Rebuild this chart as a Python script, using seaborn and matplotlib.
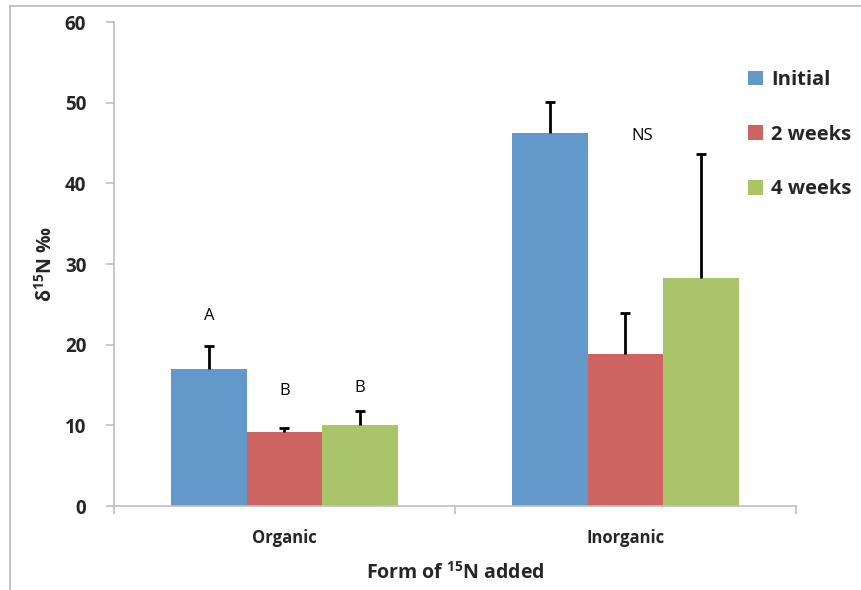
import numpy as np
import pandas as pd
import matplotlib
matplotlib.use("Agg")
import matplotlib.pyplot as plt
import seaborn as sns
from matplotlib.lines import Line2D
from matplotlib.patches import Patch

# ---- data ----
forms = ["Organic", "Inorganic"]
times = ["Initial", "2 weeks", "4 weeks"]
organic_means = [17.0, 9.2, 10.1]
organic_err = [2.8, 0.5, 1.7]
inorganic_means = [46.2, 18.9, 28.3]
inorganic_err = [3.9, 5.0, 15.3]
organic_letters = ["A", "B", "B"]
organic_letter_y = [23.5, 14.2, 14.6]
inorganic_note = "NS"
inorganic_note_y = 45.9
colors = ["#6398CB", "#CD6461", "#AAC46A"]

rows = []
for f, means, errs in [("Organic", organic_means, organic_err),
                       ("Inorganic", inorganic_means, inorganic_err)]:
    for t, m, e in zip(times, means, errs):
        rows.append({"form": f, "time": t, "value": m, "err": e})
df = pd.DataFrame(rows)

sns.set_style("white")
plt.rcParams["font.family"] = ["Open Sans", "DejaVu Sans"]
plt.rcParams["mathtext.fontset"] = "custom"
plt.rcParams["mathtext.rm"] = "Open Sans"
plt.rcParams["mathtext.bf"] = "Open Sans:bold"

fig = plt.figure(figsize=(8.62, 5.90), dpi=100)
ax = fig.add_axes([114 / 862, 1 - 506 / 590, (796 - 114) / 862, (506 - 22) / 590])

sns.barplot(data=df, x="form", y="value", hue="time", order=forms,
            hue_order=times, palette=colors, width=0.663, errorbar=None,
            saturation=1, ax=ax, legend=False, linewidth=0)

bar_containers = list(ax.containers)

# error bars (upper only)
for ci, cont in enumerate(bar_containers):
    t = times[ci]
    sub = df[df["time"] == t].set_index("form").loc[forms]
    xs = [p.get_x() + p.get_width() / 2 for p in cont.patches]
    eb = ax.errorbar(xs, sub["value"].values,
                     yerr=[np.zeros(len(xs)), sub["err"].values],
                     fmt="none", ecolor="black", elinewidth=2, capsize=3.5,
                     capthick=2, zorder=3)
    caps = eb.lines[1]
    for cl in caps:
        if np.allclose(cl.get_ydata(), sub["value"].values):
            cl.set_visible(False)

# annotations
org_x = [bar_containers[i].patches[0].get_x() +
         bar_containers[i].patches[0].get_width() / 2 for i in range(3)]
for x, lab, yv in zip(org_x, organic_letters, organic_letter_y):
    ax.text(x, yv, lab, ha="center", va="center", fontsize=12, color="black")
ax.text(1.05, inorganic_note_y, inorganic_note, ha="center", va="center",
        fontsize=12, color="black")

ax.set_ylim(0, 60)
ax.set_xlim(-0.5, 1.5)
ax.set_yticks([0, 10, 20, 30, 40, 50, 60])
ax.set_xticks([0, 1])
ax.set_xticklabels(forms, fontsize=12, fontweight="bold")
for lbl in ax.get_yticklabels():
    lbl.set_fontsize(13.5)
    lbl.set_fontweight("bold")

# spines
for s in ["top", "right"]:
    ax.spines[s].set_visible(False)
for s in ["left", "bottom"]:
    ax.spines[s].set_color("#BFBFBF")
    ax.spines[s].set_linewidth(1.2)
ax.tick_params(axis="y", which="major", left=True, length=6, color="#BFBFBF",
               width=1.2, pad=14)
ax.tick_params(axis="x", which="major", bottom=False, pad=13)
ax.set_xticks([-0.5, 0.5, 1.5], minor=True)
ax.tick_params(axis="x", which="minor", bottom=True, length=6,
               color="#BFBFBF", width=1.2)

ax.set_xlabel(r"Form of $^{\mathbf{15}}$N added", fontsize=14,
              fontweight="bold", labelpad=11)
ax.set_ylabel(r"δ$^{\mathbf{15}}$N ‰", fontsize=14, fontweight="bold",
              labelpad=6)

# legend
handles = [Patch(facecolor=c, edgecolor="none") for c in colors]
fig.legend(handles, times, loc="upper left",
           bbox_to_anchor=(748 / 862, 1 - 70 / 590), frameon=False,
           prop={"family": ["Open Sans", "DejaVu Sans"], "weight": "bold",
                 "size": 14.5},
           handlelength=0.75, handleheight=0.75, handletextpad=0.4,
           labelspacing=1.72, borderaxespad=0, borderpad=0)

# figure border (top and left)
fig.add_artist(Line2D([10 / 862, 10 / 862], [0, 1 - 6 / 590],
                      transform=fig.transFigure, color="#BFBFBF", lw=1.3))
fig.add_artist(Line2D([10 / 862, 1], [1 - 6 / 590, 1 - 6 / 590],
                      transform=fig.transFigure, color="#BFBFBF", lw=1.3))

fig.savefig("out.png", dpi=100)
